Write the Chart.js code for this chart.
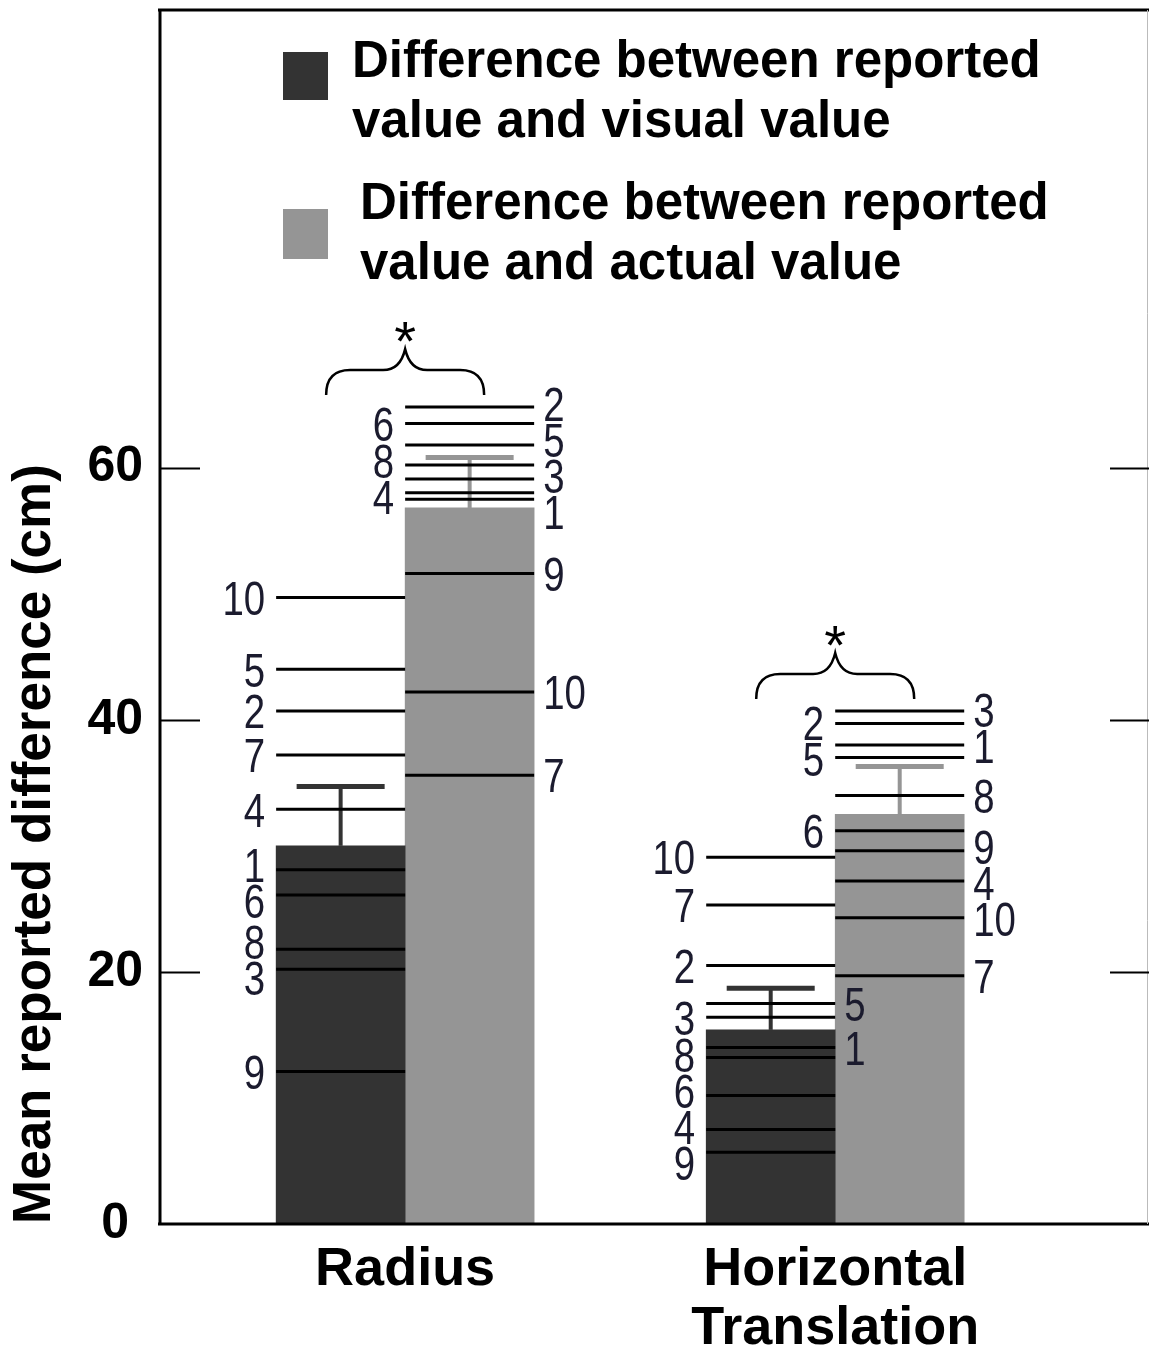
<!DOCTYPE html>
<html>
<head>
<meta charset="utf-8">
<script src="https://cdn.jsdelivr.net/npm/chart.js@4.4.0/dist/chart.umd.min.js"></script>
<style>
  html, body { margin: 0; padding: 0; background: #fff; }
</style>
</head>
<body>
<canvas id="chart" width="1149" height="1357"></canvas>
<script>
const categories = [['Radius'], ['Horizontal', 'Translation']];
const seriesNames = [
    ['Difference between reported', 'value and visual value'],
    ['Difference between reported', 'value and actual value']
];
const meanVisual = [30.0, 15.4];
const meanActual = [56.8, 32.5];
const errVisual = [4.7, 3.3];
const errActual = [4.0, 3.8];
const yTicks = [0, 20, 40, 60];

// one value per participant, participant 1..10
const radiusVisual = [28.1, 40.7, 20.2, 32.9, 44.0, 26.1, 37.2, 21.8, 12.1, 49.7];
const radiusActual = [57.5, 64.8, 59.1, 58.0, 61.8, 63.5, 35.6, 60.2, 51.6, 42.2];
const horizVisual = [14.0, 20.5, 16.4, 7.5, 17.5, 10.2, 25.3, 13.2, 5.7, 29.1];
const horizActual = [38.0, 39.7, 40.7, 27.2, 37.0, 31.2, 19.7, 34.0, 29.6, 24.3];

// side of the bar where each participant number is written
const radiusVisualSide = ['L', 'L', 'L', 'L', 'L', 'L', 'L', 'L', 'L', 'L'];
const radiusActualSide = ['R', 'R', 'R', 'L', 'R', 'L', 'R', 'L', 'R', 'R'];
const horizVisualSide = ['R', 'L', 'L', 'L', 'R', 'L', 'L', 'L', 'L', 'L'];
const horizActualSide = ['R', 'L', 'R', 'R', 'L', 'L', 'R', 'R', 'R', 'R'];
const significant = [true, true];

const colors = ['#333333', '#959595'];
const means = [meanVisual, meanActual];
const errors = [errVisual, errActual];
const participants = [[radiusVisual, horizVisual], [radiusActual, horizActual]];
const sides = [[radiusVisualSide, horizVisualSide], [radiusActualSide, horizActualSide]];
const FONT = '"Liberation Sans", Arial, sans-serif';

function spread(items, gap) {
    items.sort((a, b) => a.py - b.py);
    for (let k = 0; k < 60; k++) {
        for (let j = 1; j < items.length; j++) {
            const d = gap - (items[j].py - items[j - 1].py);
            if (d > 0) {
                items[j - 1].py -= d / 2;
                items[j].py += d / 2;
            }
        }
    }
    return items;
}

const overlay = {
    id: 'overlay',
    afterDatasetsDraw(chart) {
        const { ctx, scales: { x, y } } = chart;
        ctx.save();

        // error bars
        errors.forEach((errs, d) => {
            chart.getDatasetMeta(d).data.forEach((bar, i) => {
                const p = bar.getProps(['x', 'y'], true);
                const top = y.getPixelForValue(means[d][i] + errs[i]);
                ctx.strokeStyle = colors[d];
                ctx.lineWidth = 4;
                ctx.beginPath();
                ctx.moveTo(p.x, p.y);
                ctx.lineTo(p.x, top);
                ctx.stroke();
                ctx.lineWidth = 5;
                ctx.beginPath();
                ctx.moveTo(p.x - 44, top);
                ctx.lineTo(p.x + 44, top);
                ctx.stroke();
            });
        });

        // participant lines and numbers
        const fs = 48;
        participants.forEach((cats, d) => {
            chart.getDatasetMeta(d).data.forEach((bar, i) => {
                const p = bar.getProps(['x', 'width'], true);
                const left = p.x - p.width / 2;
                const right = p.x + p.width / 2;
                const groups = { L: [], R: [] };
                cats[i].forEach((v, k) => {
                    const py = y.getPixelForValue(v);
                    ctx.strokeStyle = '#000';
                    ctx.lineWidth = 3;
                    ctx.beginPath();
                    ctx.moveTo(left, py);
                    ctx.lineTo(right, py);
                    ctx.stroke();
                    groups[sides[d][i][k]].push({ n: k + 1, py });
                });
                ctx.fillStyle = '#1b1b2e';
                ctx.font = fs + 'px ' + FONT;
                ctx.textBaseline = 'alphabetic';
                ['L', 'R'].forEach(s => {
                    spread(groups[s], 36).forEach(it => {
                        ctx.save();
                        ctx.translate(s === 'L' ? left - 11 : right + 9, it.py + 0.36 * fs);
                        ctx.scale(0.8, 1);
                        ctx.textAlign = s === 'L' ? 'right' : 'left';
                        ctx.fillText(String(it.n), 0, 0);
                        ctx.restore();
                    });
                });
            });
        });

        // significance braces
        significant.forEach((sig, i) => {
            if (!sig) return;
            const cx = x.getPixelForValue(i + 1);
            const top = Math.max(...participants.map(c => Math.max(...c[i])));
            const b = y.getPixelForValue(top) - 12;
            ctx.strokeStyle = '#000';
            ctx.lineWidth = 2.5;
            ctx.beginPath();
            ctx.moveTo(cx - 79, b);
            ctx.quadraticCurveTo(cx - 79, b - 25, cx - 55, b - 25);
            ctx.lineTo(cx - 22, b - 25);
            ctx.quadraticCurveTo(cx - 5, b - 25, cx, b - 46);
            ctx.quadraticCurveTo(cx + 5, b - 25, cx + 22, b - 25);
            ctx.lineTo(cx + 55, b - 25);
            ctx.quadraticCurveTo(cx + 79, b - 25, cx + 79, b);
            ctx.stroke();
            ctx.fillStyle = '#000';
            ctx.font = '56px ' + FONT;
            ctx.textAlign = 'center';
            ctx.textBaseline = 'alphabetic';
            ctx.fillText('*', cx, b - 35);
        });
        ctx.restore();
    },
    afterDraw(chart) {
        const { ctx, chartArea: a, scales: { y } } = chart;
        ctx.save();
        ctx.strokeStyle = '#000';
        ctx.lineWidth = 3;
        ctx.beginPath();
        ctx.moveTo(a.left - 2, a.top);
        ctx.lineTo(chart.width, a.top);
        ctx.moveTo(a.left, a.top);
        ctx.lineTo(a.left, a.bottom + 1);
        ctx.moveTo(a.left - 2, a.bottom);
        ctx.lineTo(chart.width, a.bottom);
        ctx.stroke();
        ctx.strokeStyle = '#bbb';
        ctx.lineWidth = 1;
        ctx.beginPath();
        ctx.moveTo(a.right + 0.5, a.top);
        ctx.lineTo(a.right + 0.5, a.bottom);
        ctx.stroke();

        // inward tick marks on both sides
        ctx.strokeStyle = '#000';
        ctx.lineWidth = 2;
        yTicks.filter(v => v > 0).forEach(v => {
            const py = Math.round(y.getPixelForValue(v)) + 0.5;
            ctx.beginPath();
            ctx.moveTo(a.left, py);
            ctx.lineTo(a.left + 40, py);
            ctx.moveTo(chart.width - 39, py);
            ctx.lineTo(chart.width, py);
            ctx.stroke();
        });

        // legend
        const boxes = [[283, 52, 45, 48], [283, 209, 45, 50]];
        const textX = [352, 360];
        const base = [77, 219];
        ctx.font = 'bold 51px ' + FONT;
        ctx.textAlign = 'left';
        ctx.textBaseline = 'alphabetic';
        seriesNames.forEach((lines, d) => {
            ctx.fillStyle = colors[d];
            ctx.fillRect(...boxes[d]);
            ctx.fillStyle = '#000';
            lines.forEach((t, k) => ctx.fillText(t, textX[d], base[d] + k * 60));
        });
        ctx.restore();
    }
};

new Chart(document.getElementById('chart'), {
    type: 'bar',
    data: {
        datasets: [
            {
                label: seriesNames[0].join(' '),
                data: meanVisual.map((v, i) => ({ x: i + 1, y: v })),
                backgroundColor: colors[0],
                barThickness: 129
            },
            {
                label: seriesNames[1].join(' '),
                data: meanActual.map((v, i) => ({ x: i + 1, y: v })),
                backgroundColor: colors[1],
                barThickness: 129
            }
        ]
    },
    options: {
        responsive: false,
        animation: false,
        layout: { padding: { top: 10, right: 2, left: 0, bottom: 0 } },
        plugins: {
            legend: { display: false },
            tooltip: { enabled: false }
        },
        scales: {
            x: {
                type: 'linear',
                offset: false,
                min: 0.43,
                max: 2.725,
                grid: { display: false, drawTicks: false, offset: false },
                border: { display: false },
                afterBuildTicks: s => { s.ticks = categories.map((c, i) => ({ value: i + 1 })); },
                afterFit: s => { s.height = 133; s.paddingLeft = 0; s.paddingRight = 0; },
                ticks: {
                    callback: v => categories[v - 1],
                    autoSkip: false,
                    maxRotation: 0,
                    padding: 16,
                    color: '#000',
                    font: { family: FONT, size: 54, weight: 'bold', lineHeight: 1.1 }
                }
            },
            y: {
                min: 0,
                max: 96.3,
                grid: { display: false, drawTicks: false },
                border: { display: false },
                afterBuildTicks: s => { s.ticks = yTicks.map(v => ({ value: v })); },
                afterFit: s => { s.width = 160; s.paddingTop = 0; s.paddingBottom = 0; },
                ticks: {
                    crossAlign: 'center',
                    padding: 17,
                    color: '#000',
                    font: { family: FONT, size: 50, weight: 'bold' }
                },
                title: {
                    display: true,
                    text: 'Mean reported difference (cm)',
                    align: 'start',
                    color: '#000',
                    padding: { top: 4, bottom: 0 },
                    font: { family: FONT, size: 53, weight: 'bold', lineHeight: 1.2 }
                }
            }
        }
    },
    plugins: [overlay]
});
</script>
</body>
</html>
